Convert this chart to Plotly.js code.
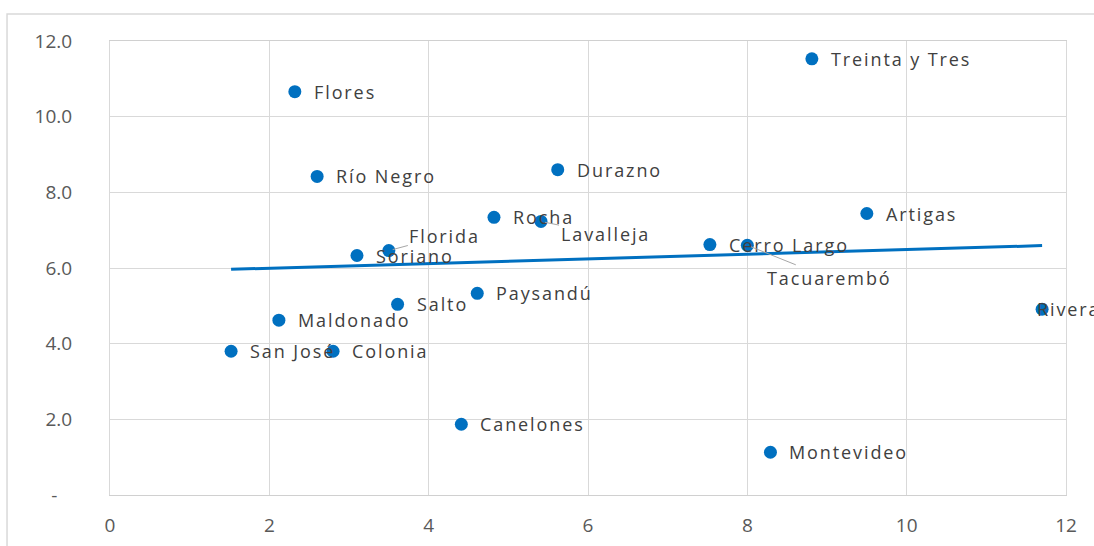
<!DOCTYPE html>
<html>
<head>
<meta charset="utf-8">
<script src="https://cdn.plot.ly/plotly-3.0.1.min.js"></script>
<style>
  html, body { margin: 0; padding: 0; background: #ffffff; }
  #chart { width: 1094px; height: 546px; }
  .annotation-text { letter-spacing: 1.9px; }
</style>
</head>
<body>
<div id="chart"></div>
<script>
// ---- Data ----
const departments = ["Treinta y Tres", "Flores", "Río Negro", "Durazno", "Rocha", "Lavalleja",
  "Artigas", "Florida", "Soriano", "Cerro Largo", "Tacuarembó", "Rivera", "Paysandú",
  "Salto", "Maldonado", "San José", "Colonia", "Canelones", "Montevideo"];
const xValues = [8.81, 2.32, 2.60, 5.62, 4.82, 5.41, 9.50, 3.50, 3.10, 7.53, 8.00, 11.70, 4.61,
  3.61, 2.12, 1.52, 2.80, 4.41, 8.29];
const yValues = [11.53, 10.66, 8.42, 8.60, 7.34, 7.23, 7.44, 6.46, 6.33, 6.62, 6.60, 4.91, 5.33,
  5.04, 4.62, 3.80, 3.80, 1.87, 1.13];
const xTickVals = [0, 2, 4, 6, 8, 10, 12];
const xTickText = ["0", "2", "4", "6", "8", "10", "12"];
const yTickVals = [0, 2, 4, 6, 8, 10, 12];
const yTickText = ["-\u00a0\u00a0\u00a0", "2.0", "4.0", "6.0", "8.0", "10.0", "12.0"];

// ---- Label placement styles (pixel offsets, not data) ----
const leaderLabels = {
  "Florida":    { ax: 56, ay: -15 },
  "Lavalleja":  { ax: 64, ay: 13 },
  "Tacuarembó": { ax: 82, ay: 33 }
};
const labelShift = { "Rivera": -7 };

// ---- Linear trend line computed from the data ----
const n = xValues.length;
const mx = xValues.reduce((a, b) => a + b, 0) / n;
const my = yValues.reduce((a, b) => a + b, 0) / n;
let sxy = 0, sxx = 0;
for (let i = 0; i < n; i++) {
  sxy += (xValues[i] - mx) * (yValues[i] - my);
  sxx += (xValues[i] - mx) * (xValues[i] - mx);
}
const slope = sxy / sxx;
const intercept = my - slope * mx;
const trendX = [Math.min(...xValues), Math.max(...xValues)];
const trendY = trendX.map(v => intercept + slope * v);

const blue = "#0070C0";
const fam = "Open Sans, Liberation Sans, sans-serif";
const labelFont = { family: fam, size: 18, color: "#404040" };

const traces = [
  {
    type: "scatter", mode: "markers",
    x: xValues, y: yValues, text: departments,
    marker: { color: blue, size: 13 },
    hoverinfo: "none", cliponaxis: false
  },
  {
    type: "scatter", mode: "lines",
    x: trendX, y: trendY,
    line: { color: blue, width: 3 },
    hoverinfo: "none"
  }
];

const annotations = departments.map((name, i) => {
  const base = { x: xValues[i], y: yValues[i], text: name, font: labelFont,
                 xref: "x", yref: "y" };
  if (leaderLabels[name]) {
    return Object.assign(base, {
      showarrow: true, ax: leaderLabels[name].ax, ay: leaderLabels[name].ay,
      arrowhead: 0, arrowwidth: 1, arrowcolor: "#a6a6a6", standoff: 4
    });
  }
  return Object.assign(base, {
    showarrow: false, xanchor: "left", yanchor: "middle",
    xshift: (name in labelShift) ? labelShift[name] : 17
  });
});

const layout = {
  width: 1094, height: 546,
  margin: { l: 110, r: 28, t: 41, b: 51, pad: 0 },
  paper_bgcolor: "#ffffff", plot_bgcolor: "#ffffff",
  showlegend: false,
  font: { family: fam, size: 19, color: "#595959" },
  xaxis: {
    range: [0, 12], tickvals: xTickVals, ticktext: xTickText,
    showgrid: true, gridcolor: "#d9d9d9", gridwidth: 1,
    zeroline: false, showline: true, linecolor: "#d0d0d0", linewidth: 1, mirror: true,
    ticks: "", ticklabelstandoff: 13,
    tickfont: { family: fam, size: 19, color: "#595959" },
    fixedrange: true
  },
  yaxis: {
    range: [0, 12], tickvals: yTickVals, ticktext: yTickText,
    showgrid: true, gridcolor: "#d9d9d9", gridwidth: 1,
    zeroline: false, showline: true, linecolor: "#d9d9d9", linewidth: 1, mirror: true,
    ticks: "", ticklabelstandoff: 33,
    tickfont: { family: fam, size: 19, color: "#595959" },
    fixedrange: true
  },
  shapes: [
    { type: "rect", xref: "paper", yref: "paper", layer: "below",
      x0: -0.1077, x1: 1.3, y0: -0.4, y1: 1.0595,
      line: { color: "#d9d9d9", width: 1.5 }, fillcolor: "rgba(0,0,0,0)" }
  ],
  annotations: annotations
};

Plotly.newPlot("chart", traces, layout, { staticPlot: true, displayModeBar: false });
</script>
</body>
</html>
